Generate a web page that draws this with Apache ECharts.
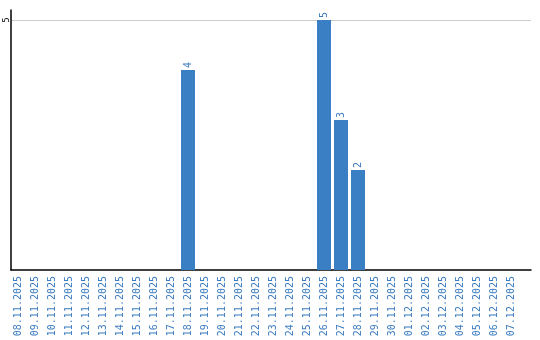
<!DOCTYPE html>
<html>
<head>
<meta charset="utf-8">
<script src="https://cdn.jsdelivr.net/npm/echarts@6/dist/echarts.min.js"></script>
<style>html,body{margin:0;padding:0;background:#fff}#c{width:540px;height:340px}</style>
</head>
<body>
<div id="c"></div>
<script>
const dates = ['08.11.2025','09.11.2025','10.11.2025','11.11.2025','12.11.2025','13.11.2025','14.11.2025','15.11.2025','16.11.2025','17.11.2025','18.11.2025','19.11.2025','20.11.2025','21.11.2025','22.11.2025','23.11.2025','24.11.2025','25.11.2025','26.11.2025','27.11.2025','28.11.2025','29.11.2025','30.11.2025','01.12.2025','02.12.2025','03.12.2025','04.12.2025','05.12.2025','06.12.2025','07.12.2025'];
const counts = [0,0,0,0,0,0,0,0,0,0,4,0,0,0,0,0,0,0,5,3,2,0,0,0,0,0,0,0,0,0];
const yMax = 5.2;
const yTick = 5;

const blue = '#3a7fc4';
const chart = echarts.init(document.getElementById('c'), null, {renderer: 'canvas'});
chart.setOption({
  animation: false,
  grid: [
    {left: 9.5, width: 510, top: 10, bottom: 70},
    {left: 11, right: 9, top: 10, bottom: 70}
  ],
  xAxis: [
    {
      type: 'category', gridIndex: 0, data: dates,
      axisLine: {show: false}, axisTick: {show: false},
      axisLabel: {rotate: 90, interval: 0, margin: 6, fontSize: 10, fontFamily: 'DejaVu Sans Mono', color: '#3b7cc0'}
    },
    {
      type: 'value', gridIndex: 1, min: 0, max: 1,
      axisLine: {show: true, lineStyle: {color: '#000', width: 1.5}},
      axisTick: {show: false}, axisLabel: {show: false}, splitLine: {show: false}
    }
  ],
  yAxis: [
    {type: 'value', gridIndex: 0, min: 0, max: yMax, show: false, splitLine: {show: false}},
    {
      type: 'value', gridIndex: 1, min: 0, max: yMax, interval: yTick,
      axisLine: {show: true, lineStyle: {color: '#000', width: 1.5}},
      axisTick: {show: false},
      axisLabel: {rotate: 90, margin: 0, fontSize: 8, lineHeight: 8, fontFamily: 'DejaVu Sans', color: '#000', showMinLabel: false, showMaxLabel: false,
        formatter: v => (v === yTick ? String(v) : '')},
      splitLine: {show: true, showMinLine: false, showMaxLine: false, lineStyle: {color: '#cccccc', width: 1}}
    }
  ],
  series: [{
    type: 'bar', xAxisIndex: 0, yAxisIndex: 0,
    data: counts, barWidth: 14,
    itemStyle: {color: blue},
    label: {
      show: true, position: 'top', rotate: 90, align: 'left', verticalAlign: 'middle', distance: 2,
      fontSize: 10, fontFamily: 'DejaVu Sans Mono', color: '#3b7cc0',
      formatter: p => (p.value ? String(p.value) : '')
    }
  }]
});
</script>
</body>
</html>
